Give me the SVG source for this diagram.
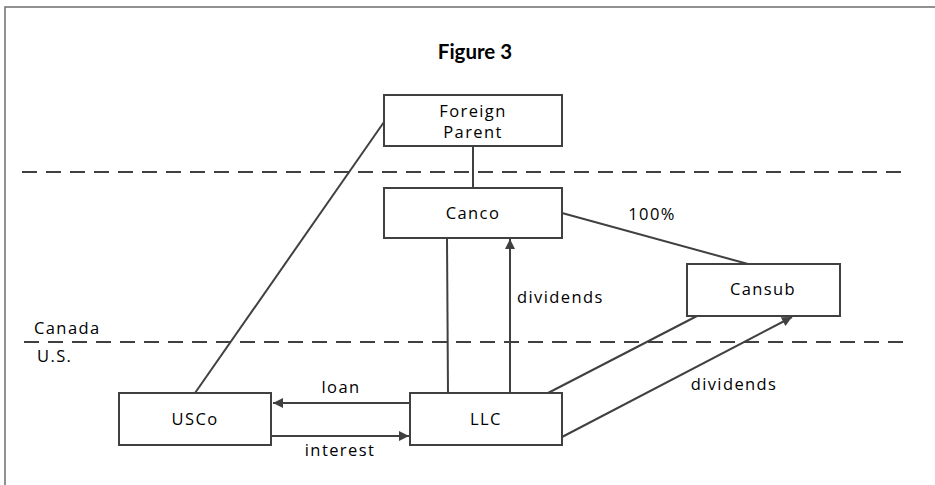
<svg xmlns="http://www.w3.org/2000/svg" width="935" height="485" viewBox="0 0 935 485">
<defs>
<style>
.box{fill:#fff;stroke:#404040;stroke-width:2}
.ln{stroke:#404040;stroke-width:2;fill:none}
.dash{stroke:#404040;stroke-width:2;stroke-dasharray:15 9;fill:none}
.t{font-family:"Open Sans",sans-serif;font-size:16.5px;letter-spacing:1.4px;fill:#000;text-anchor:middle}
.tl{font-family:"Open Sans",sans-serif;font-size:16.5px;letter-spacing:1.4px;fill:#000}
</style>
<marker id="ah" viewBox="0 0 10 10" refX="10" refY="5" markerWidth="12" markerHeight="10" markerUnits="userSpaceOnUse" orient="auto">
<path d="M0,0 L10,5 L0,10 Z" fill="#404040"/>
</marker>
</defs>
<rect width="935" height="485" fill="#fff"/>
<path d="M935,7 H5 V485" stroke="#6e6e6e" stroke-width="1.5" fill="none"/>
<text x="475" y="59" font-family="Lato,sans-serif" font-weight="bold" font-size="20.5" text-anchor="middle" fill="#000">Figure 3</text>
<g id="dividers">
<line class="dash" x1="22" y1="172" x2="908" y2="172"/>
<line class="dash" x1="24" y1="342" x2="908" y2="342"/>
<text class="tl" x="34" y="334">Canada</text>
<text class="tl" x="37" y="362">U.S.</text>
</g>
<g id="connectors">
<line class="ln" x1="473" y1="146" x2="473" y2="188"/>
<line class="ln" x1="195" y1="393" x2="384" y2="122"/>
<line class="ln" x1="562" y1="213" x2="748" y2="264"/>
<line class="ln" x1="448" y1="393" x2="447" y2="238"/>
<line class="ln" x1="510" y1="393" x2="510" y2="239" marker-end="url(#ah)"/>
<line class="ln" x1="548" y1="393" x2="697" y2="316"/>
<line class="ln" x1="562" y1="437" x2="792" y2="317" marker-end="url(#ah)"/>
<line class="ln" x1="410" y1="403" x2="273" y2="403" marker-end="url(#ah)"/>
<line class="ln" x1="271" y1="436" x2="409" y2="436" marker-end="url(#ah)"/>
<text class="t" x="652" y="220">100%</text>
<text class="tl" x="517" y="303">dividends</text>
<text class="t" x="734" y="390">dividends</text>
<text class="t" x="341" y="393">loan</text>
<text class="t" x="340" y="456">interest</text>
</g>
<g id="foreign-parent">
<rect class="box" x="384" y="95" width="178" height="51"/>
<text class="t" x="473" y="117">Foreign</text>
<text class="t" x="473" y="138">Parent</text>
</g>
<g id="canco">
<rect class="box" x="384" y="188" width="178" height="50"/>
<text class="t" x="473" y="219">Canco</text>
</g>
<g id="cansub">
<rect class="box" x="687" y="264" width="153" height="52"/>
<text class="t" x="763" y="295">Cansub</text>
</g>
<g id="usco">
<rect class="box" x="119" y="393" width="152" height="52"/>
<text class="t" x="195" y="425">USCo</text>
</g>
<g id="llc">
<rect class="box" x="410" y="393" width="152" height="52"/>
<text class="t" x="486" y="425">LLC</text>
</g>
</svg>
